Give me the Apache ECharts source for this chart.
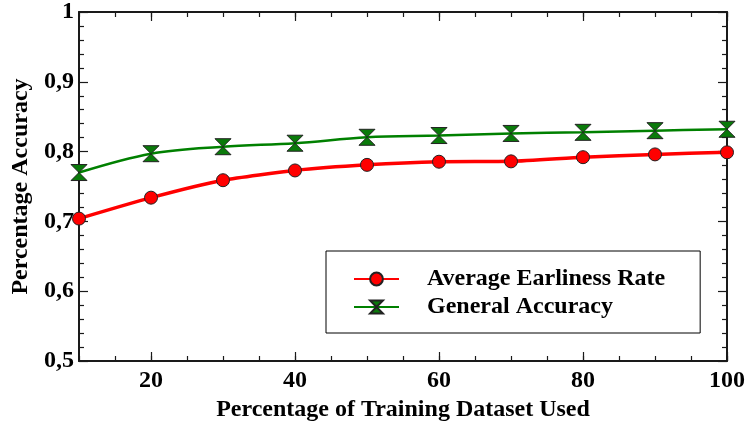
<!DOCTYPE html>
<html>
<head>
<meta charset="utf-8">
<script src="https://cdn.jsdelivr.net/npm/echarts@6/dist/echarts.min.js"></script>
<style>html,body{margin:0;padding:0;background:#fff;}#c{width:748px;height:428px;}</style>
</head>
<body>
<div id="c"></div>
<script>
var xValues = [10, 20, 30, 40, 50, 60, 70, 80, 90, 100];
var earlinessRate = [0.704, 0.734, 0.759, 0.773, 0.781, 0.7855, 0.786, 0.792, 0.796, 0.799];
var generalAccuracy = [0.770, 0.797, 0.807, 0.812, 0.8205, 0.823, 0.826, 0.8276, 0.830, 0.832];
var xMajorTicks = [20, 40, 60, 80, 100];
var seriesNames = ['Average Earliness Rate', 'General Accuracy'];

var FONT = 'Liberation Serif, Times New Roman, serif';
var AXIS_COLOR = '#1a1a1a';
function pairs(vals) { return xValues.map(function (x, i) { return [x, vals[i]]; }); }
var hourglass = 'path://M0,0 L10,0 L5,5 Z M5,5 L0,10 L10,10 Z';

function xAx(pos, major, withLabel) {
  return {
    type: 'value', position: pos, min: 10, max: 100, interval: 5,
    axisLine: { show: !major, onZero: false, lineStyle: { color: AXIS_COLOR, width: 2 } },
    axisTick: major ? { show: true, inside: true, length: 9, customValues: xMajorTicks, lineStyle: { color: AXIS_COLOR, width: 1.2 } }
                    : { show: true, inside: true, length: 5, lineStyle: { color: AXIS_COLOR, width: 1.2 } },
    axisLabel: withLabel ? { show: true, customValues: xMajorTicks, fontFamily: FONT, fontWeight: 'bold', fontSize: 24, color: '#000', margin: 8 } : { show: false },
    splitLine: { show: false },
    name: withLabel ? 'Percentage of Training Dataset Used' : '',
    nameLocation: 'middle', nameGap: 37,
    nameTextStyle: { fontFamily: FONT, fontWeight: 'bold', fontSize: 24, color: '#000' }
  };
}
function yAx(pos, withLabel) {
  return {
    type: 'value', position: pos, min: 0.5, max: 1, interval: 0.1,
    axisLine: { show: true, onZero: false, lineStyle: { color: AXIS_COLOR, width: 2 } },
    axisTick: { show: true, inside: true, length: 9, lineStyle: { color: AXIS_COLOR, width: 1.2 } },
    minorTick: { show: true, splitNumber: 5, length: 5, lineStyle: { color: AXIS_COLOR, width: 1.2 } },
    axisLabel: withLabel ? { show: true, fontFamily: FONT, fontWeight: 'bold', fontSize: 24, color: '#000', margin: 5,
      formatter: function (v) { return Math.abs(v - 1) < 1e-9 ? '1' : v.toFixed(1).replace('.', ','); } } : { show: false },
    splitLine: { show: false }, minorSplitLine: { show: false },
    name: withLabel ? 'Percentage Accuracy' : '',
    nameLocation: 'middle', nameGap: 43,
    nameTextStyle: { fontFamily: FONT, fontWeight: 'bold', fontSize: 24, color: '#000' }
  };
}

var chart = echarts.init(document.getElementById('c'));
chart.setOption({
  animation: false,
  backgroundColor: '#fff',
  grid: { left: 79, right: 21, top: 12, bottom: 67 },
  xAxis: [xAx('bottom', false, true), xAx('bottom', true, false), xAx('top', false, false), xAx('top', true, false)],
  yAxis: [yAx('left', true), yAx('right', false)],
  legend: {
    left: 326, top: 251, orient: 'vertical',
    borderColor: '#000', borderWidth: 1, padding: [16, 35, 14, 27],
    itemWidth: 45, itemHeight: 16, itemGap: 4,
    textStyle: { fontFamily: FONT, fontWeight: 'bold', fontSize: 24, color: '#000', padding: [0, 0, 0, 23] },
    data: seriesNames
  },
  series: [
    {
      name: seriesNames[0], type: 'line', xAxisIndex: 0, yAxisIndex: 0,
      data: pairs(earlinessRate), smooth: 0.2,
      symbol: 'circle', symbolSize: 13,
      lineStyle: { color: '#ff0000', width: 3.5 },
      itemStyle: { color: '#ff0000', borderColor: '#222', borderWidth: 1 },
      z: 3
    },
    {
      name: seriesNames[1], type: 'line', xAxisIndex: 0, yAxisIndex: 0,
      data: pairs(generalAccuracy), smooth: 0.35,
      symbol: hourglass, symbolSize: 16,
      lineStyle: { color: '#008000', width: 2.5 },
      itemStyle: { color: '#0a7a0a', borderColor: '#222', borderWidth: 1 },
      z: 4
    }
  ]
});
</script>
</body>
</html>
